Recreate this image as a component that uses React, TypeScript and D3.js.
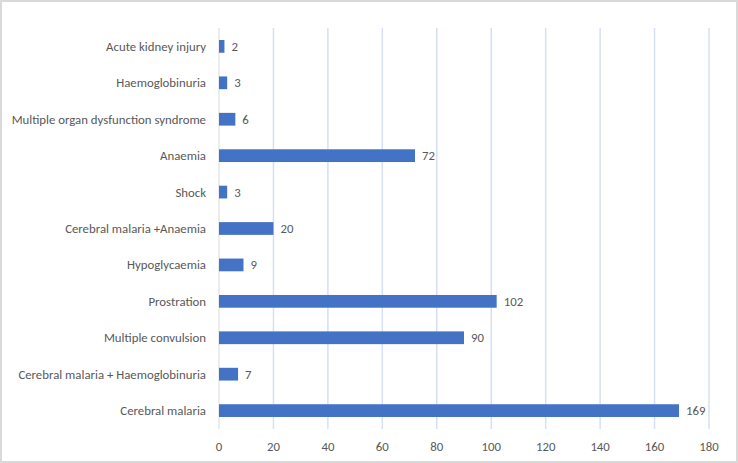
import React from 'react'
import * as d3 from 'd3'

const categories = [
  'Acute kidney injury',
  'Haemoglobinuria',
  'Multiple organ dysfunction syndrome',
  'Anaemia',
  'Shock',
  'Cerebral malaria +Anaemia',
  'Hypoglycaemia',
  'Prostration',
  'Multiple convulsion',
  'Cerebral malaria + Haemoglobinuria',
  'Cerebral malaria',
]
const counts = [2, 3, 6, 72, 3, 20, 9, 102, 90, 7, 169]
const xTicks = [0, 20, 40, 60, 80, 100, 120, 140, 160, 180]

const W = 738
const H = 463
const margin = { top: 28, right: 29, bottom: 34, left: 219 }

export default function App() {
  const x = d3.scaleLinear().domain([0, 180]).range([margin.left, W - margin.right])
  const y = d3
    .scaleBand<string>()
    .domain(categories)
    .range([margin.top, H - margin.bottom])
    .paddingInner(0.65)
    .paddingOuter(0.33)

  const font = "Calibri, Carlito, Lato, sans-serif"
  const textColor = '#595959'

  return (
    <svg
      width={W}
      height={H}
      style={{ position: 'absolute', left: 0, top: 0, fontFamily: font }}
    >
      <rect x={1} y={1} width={W - 2} height={H - 2} fill="#fff" stroke="#d9d9d9" strokeWidth={2} />

      {/* vertical gridlines */}
      {xTicks.slice(1).map(t => (
        <line
          key={t}
          x1={x(t)}
          x2={x(t)}
          y1={margin.top}
          y2={H - margin.bottom}
          stroke="#d6e0f3"
          strokeWidth={1.5}
        />
      ))}
      <line
        x1={x(0)}
        x2={x(0)}
        y1={margin.top}
        y2={H - margin.bottom}
        stroke="#d9d9d9"
      />

      {/* bars */}
      {categories.map((c, i) => (
        <g key={c}>
          <rect
            x={x(0)}
            y={y(c)}
            width={x(counts[i]) - x(0)}
            height={y.bandwidth()}
            fill="#4472c4"
          />
          <text
            x={x(counts[i]) + 7}
            y={(y(c) as number) + y.bandwidth() / 2}
            dy="0.35em"
            fontSize={12.8}
            fill={textColor}
          >
            {counts[i]}
          </text>
          <text
            x={x(0) - 13}
            y={(y(c) as number) + y.bandwidth() / 2}
            dy="0.35em"
            textAnchor="end"
            fontSize={12.8}
            fill={textColor}
          >
            {c}
          </text>
        </g>
      ))}

      {/* x tick labels */}
      {xTicks.map(t => (
        <text
          key={t}
          x={x(t)}
          y={H - margin.bottom + 18}
          dy="0.35em"
          textAnchor="middle"
          fontSize={12.8}
          fill={textColor}
        >
          {t}
        </text>
      ))}
    </svg>
  )
}
